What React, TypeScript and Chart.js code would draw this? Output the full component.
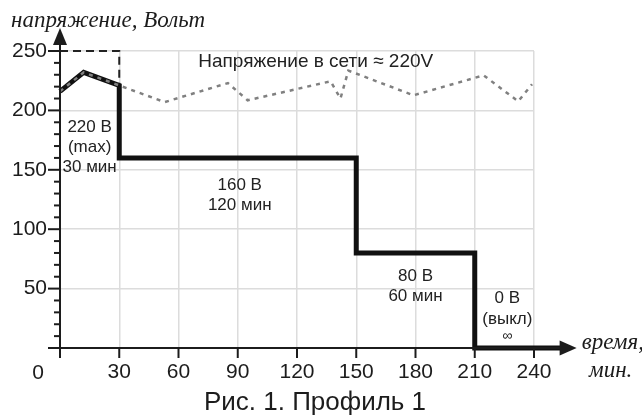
import React, { useEffect, useRef } from 'react';
import { Chart, registerables } from 'chart.js';

Chart.register(...registerables);

// ---- data ----
const profileTime = [0, 12, 30, 30, 150, 150, 210, 210, 254];
const profileVolt = [216, 232, 221, 160, 160, 80, 80, 0, 0];

const mainsTime = [0, 12, 30, 53, 85, 95, 137, 142, 146, 179, 214.5, 232, 239];
const mainsVolt = [216, 232, 221, 207, 223, 208.5, 224.5, 210, 233.5, 212.7, 229.5, 207.6, 222];

const maxBoxTime = [0, 30, 30];
const maxBoxVolt = [250, 250, 221];

const xTickValues = [0, 30, 60, 90, 120, 150, 180, 210, 240];
const yTickValues = [50, 100, 150, 200, 250];
const yMinorStep = 10;

const noteText = ['220 В', '(max)', '30 мин', 'Напряжение в сети ≈ 220V', '160 В', '120 мин', '80 В', '60 мин', '0 В', '(выкл)', '∞'];
const noteTime = [15, 15, 15, 129.5, 91, 91, 180, 180, 226.5, 226.5, 226.5];
const noteVolt = [186, 169, 152, 241, 137, 120, 60.5, 43.5, 41.5, 24, 10];
const noteSize = [17, 17, 17, 19, 17, 17, 17, 17, 17, 17, 14];

const yTitle = 'напряжение, Вольт';
const xTitle1 = 'время,';
const xTitle2 = 'мин.';
const chartTitle = 'Рис. 1. Профиль 1';

const SANS = '"Liberation Sans", Arial, sans-serif';
const SERIF = '"Liberation Serif", "Times New Roman", serif';
const INK = '#1c1c1c';

const decorPlugin = {
  id: 'decor',
  afterDraw(chart: any) {
    const ctx = chart.ctx;
    const xs = chart.scales.x;
    const ys = chart.scales.y;
    const { left, bottom, top } = chart.chartArea;
    ctx.save();
    ctx.strokeStyle = INK;
    ctx.fillStyle = INK;
    ctx.lineWidth = 2;

    // y ticks
    for (let v = yMinorStep; v < ys.max; v += yMinorStep) {
      const py = ys.getPixelForValue(v);
      const major = yTickValues.includes(v);
      ctx.beginPath();
      ctx.moveTo(left - (major ? 12 : 6), py);
      ctx.lineTo(left, py);
      ctx.stroke();
    }
    const pyMax = ys.getPixelForValue(ys.max);
    ctx.beginPath();
    ctx.moveTo(left - 12, pyMax);
    ctx.lineTo(left, pyMax);
    ctx.stroke();

    // x ticks
    xTickValues.forEach((v) => {
      const px = xs.getPixelForValue(v);
      ctx.beginPath();
      ctx.moveTo(px, bottom);
      ctx.lineTo(px, bottom + 10);
      ctx.stroke();
    });

    // y axis with arrow
    const yTip = top - 23;
    ctx.beginPath();
    ctx.moveTo(left, bottom + 10);
    ctx.lineTo(left, yTip + 14);
    ctx.stroke();
    ctx.beginPath();
    ctx.moveTo(left, yTip);
    ctx.lineTo(left - 7, yTip + 17);
    ctx.lineTo(left + 7, yTip + 17);
    ctx.closePath();
    ctx.fill();

    // x axis with arrow
    const xEnd = xs.getPixelForValue(profileTime[profileTime.length - 1]);
    ctx.beginPath();
    ctx.moveTo(left - 12, bottom);
    ctx.lineTo(xEnd, bottom);
    ctx.stroke();
    ctx.beginPath();
    ctx.moveTo(xEnd + 15, bottom);
    ctx.lineTo(xEnd - 2, bottom - 7.5);
    ctx.lineTo(xEnd - 2, bottom + 7.5);
    ctx.closePath();
    ctx.fill();

    // origin label
    ctx.font = `21px ${SANS}`;
    ctx.textAlign = 'center';
    ctx.textBaseline = 'middle';
    ctx.fillText('0', left - 22, bottom + 25);

    // axis titles
    ctx.font = `italic 23px ${SERIF}`;
    ctx.textAlign = 'left';
    ctx.textBaseline = 'alphabetic';
    ctx.fillText(yTitle, 11, 27);
    ctx.fillText(xTitle1, xEnd + 20, bottom + 1);
    ctx.textAlign = 'center';
    ctx.fillText(xTitle2, xEnd + 49, bottom + 29);

    // notes
    ctx.fillStyle = '#222';
    ctx.textBaseline = 'middle';
    ctx.textAlign = 'center';
    noteText.forEach((t, i) => {
      ctx.font = `${noteSize[i]}px ${SANS}`;
      ctx.fillText(t, xs.getPixelForValue(noteTime[i]), ys.getPixelForValue(noteVolt[i]));
    });

    // chart title
    ctx.fillStyle = INK;
    ctx.font = `26px ${SANS}`;
    ctx.textBaseline = 'alphabetic';
    ctx.fillText(chartTitle, 315, 410);
    ctx.restore();
  },
};

export default function App() {
  const ref = useRef<HTMLCanvasElement | null>(null);
  useEffect(() => {
    if (!ref.current) return;
    const toPts = (xs: number[], ys: number[]) => xs.map((x, i) => ({ x, y: ys[i] }));
    const chart = new Chart(ref.current, {
      type: 'line',
      data: {
        datasets: [
          {
            data: toPts(mainsTime, mainsVolt),
            borderColor: '#808080',
            borderWidth: 2.5,
            borderDash: [4, 5],
            pointRadius: 0,
            tension: 0,
            order: 0,
            clip: false,
          },
          {
            data: toPts(profileTime, profileVolt),
            borderColor: '#111',
            borderWidth: 5,
            borderJoinStyle: 'miter',
            pointRadius: 0,
            tension: 0,
            order: 1,
            clip: false,
          },
          {
            data: toPts(maxBoxTime, maxBoxVolt),
            borderColor: '#222',
            borderWidth: 2,
            borderDash: [8, 5],
            pointRadius: 0,
            tension: 0,
            order: 2,
            clip: false,
          },
        ],
      } as any,
      options: {
        responsive: false,
        animation: false,
        devicePixelRatio: 1,
        layout: { padding: { top: 51, right: 108, left: 0, bottom: 0 } },
        plugins: { legend: { display: false }, tooltip: { enabled: false }, title: { display: false } },
        events: [],
        scales: {
          x: {
            type: 'linear',
            min: 0,
            max: 240,
            afterBuildTicks: (s: any) => {
              s.ticks = xTickValues.map((value) => ({ value }));
            },
            afterFit: (s: any) => {
              s.height = 67;
            },
            ticks: {
              autoSkip: false,
              maxRotation: 0,
              padding: 12,
              color: INK,
              font: { family: SANS, size: 21 },
              callback: (v: any) => (v === 0 ? '' : String(v)),
            },
            grid: { color: '#dcdcdc', lineWidth: 1.5, drawTicks: false },
            border: { display: false },
          },
          y: {
            type: 'linear',
            min: 0,
            max: 250,
            afterBuildTicks: (s: any) => {
              s.ticks = yTickValues.map((value) => ({ value }));
            },
            afterFit: (s: any) => {
              s.width = 60;
            },
            ticks: {
              padding: 13,
              color: INK,
              font: { family: SANS, size: 21 },
            },
            grid: { color: '#dcdcdc', lineWidth: 1.5, drawTicks: false },
            border: { display: false },
          },
        },
      } as any,
      plugins: [decorPlugin],
    });
    return () => chart.destroy();
  }, []);
  return (
    <div style={{ position: 'absolute', left: 0, top: 0, width: 642, height: 415, background: '#fff' }}>
      <canvas ref={ref} width={642} height={415} style={{ width: 642, height: 415, display: 'block' }} />
    </div>
  );
}
